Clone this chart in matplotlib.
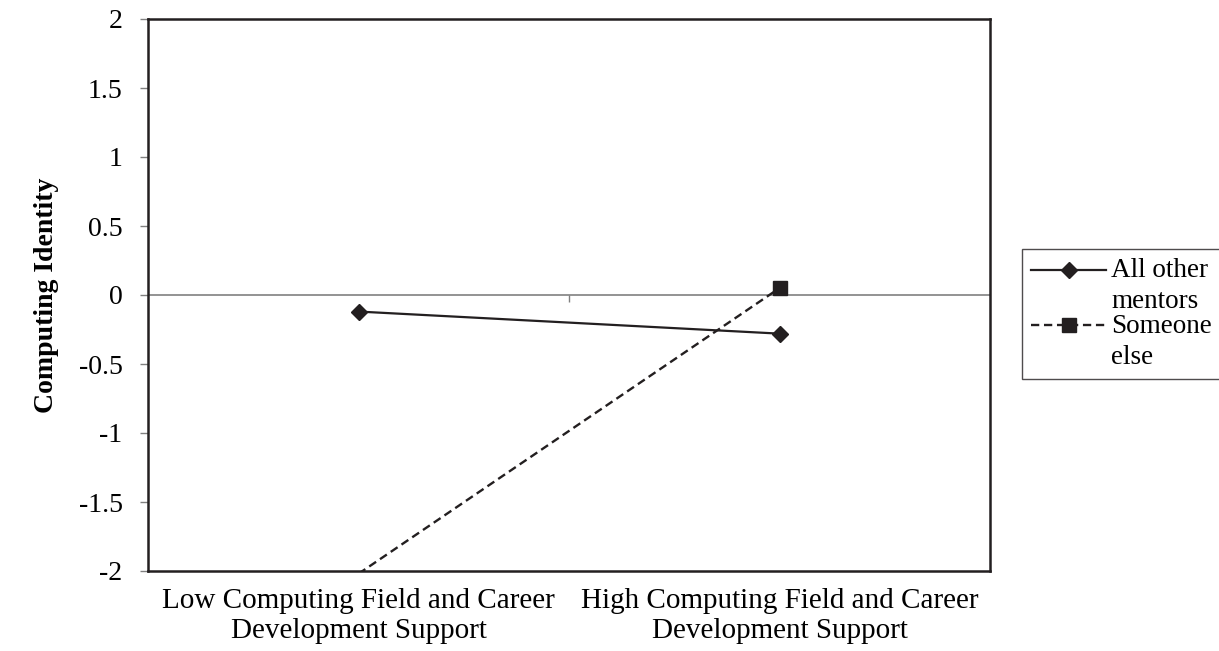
import matplotlib.pyplot as plt
from matplotlib.legend_handler import HandlerLine2D

categories = ['Low Computing Field and Career\nDevelopment Support',
              'High Computing Field and Career\nDevelopment Support']
all_other = [-0.12, -0.28]
someone_else = [-2.02, 0.05]
yticks = [-2, -1.5, -1, -0.5, 0, 0.5, 1, 1.5, 2]

plt.rcParams['font.family'] = ['Liberation Serif', 'DejaVu Serif']
ink = '#231f20'


class FirstLineHandler(HandlerLine2D):
    # put the legend sample beside the first line of a two-line label
    def create_artists(self, legend, orig_handle, xdescent, ydescent,
                       width, height, fontsize, trans):
        arts = super().create_artists(legend, orig_handle, xdescent, ydescent,
                                      width, height, fontsize, trans)
        for a in arts:
            a.set_ydata([y + 0.62 * fontsize for y in a.get_ydata()])
        return arts


fig = plt.figure(figsize=(12.19, 6.51), dpi=100)
ax = fig.add_axes([148 / 1219, 1 - 571 / 651, 842 / 1219, 552 / 651])

x = list(range(len(categories)))

# zero line used as category axis, with a tick between the categories
ax.axhline(0, color='#808080', lw=1.2, zorder=1)
sec = ax.secondary_xaxis(0.5)
sec.xaxis.set_ticks_position('bottom')
sec.set_xticks([0.5])
sec.set_xticklabels([''])
sec.tick_params(direction='out', length=5, width=1, color='#808080')
sec.spines['bottom'].set_visible(False)
sec.spines['top'].set_visible(False)

l1, = ax.plot(x, all_other, color=ink, lw=1.6, marker='D', markersize=8, zorder=3)
l2, = ax.plot(x, someone_else, color=ink, lw=1.7, ls=(0, (3.5, 2.0)), zorder=3)
# the low point is below the axis range, so only the high marker shows
m2, = ax.plot(x[1:], someone_else[1:], color=ink, ls='none', marker='s',
              markersize=10, zorder=4)

ax.set_xlim(-0.5, 1.5)
ax.set_ylim(-2, 2)
ax.set_xticks(x)
ax.set_xticklabels(categories, fontsize=21, linespacing=1.22)
ax.tick_params(axis='x', length=0, pad=12)
ax.set_yticks(yticks)
ax.set_yticklabels([f'{v:g}' for v in yticks], fontsize=20)
ax.tick_params(axis='y', direction='out', length=5.8, width=1, color='#808080', pad=12.5)
for s in ax.spines.values():
    s.set_linewidth(1.8)
    s.set_color(ink)

ax.set_ylabel('Computing Identity', fontsize=20, fontweight='bold')
ax.yaxis.set_label_coords((59 - 148) / 842, 0.5)

leg = fig.legend(handles=[l1, (l2, m2)], labels=['All other\nmentors', 'Someone\nelse'],
                 handler_map={type(l1): FirstLineHandler()},
                 loc='upper left', bbox_to_anchor=(1022 / 1219, 1 - 249 / 651),
                 fontsize=19.5, frameon=True, fancybox=False, edgecolor=ink,
                 handlelength=2.75, handletextpad=0.2, borderpad=0.35,
                 labelspacing=0.0, borderaxespad=0)
leg.get_frame().set_linewidth(1.0)
for t in leg.get_texts():
    t.set_linespacing(1.3)

fig.savefig('out.png', dpi=100)
